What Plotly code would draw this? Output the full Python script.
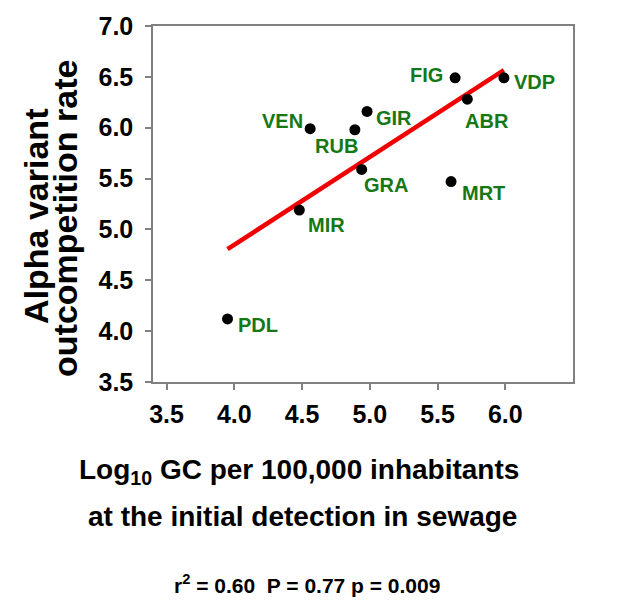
import numpy as np
import plotly.graph_objects as go

# ---- data ----
sites = ["PDL", "MIR", "VEN", "RUB", "GIR", "GRA", "FIG", "VDP", "ABR", "MRT"]
log_gc = [3.95, 4.48, 4.56, 4.89, 4.98, 4.94, 5.63, 5.99, 5.72, 5.60]
alpha_rate = [4.12, 5.19, 5.99, 5.98, 6.16, 5.59, 6.49, 6.49, 6.28, 5.47]
x_ticks = [3.5, 4.0, 4.5, 5.0, 5.5, 6.0]
y_ticks = [3.5, 4.0, 4.5, 5.0, 5.5, 6.0, 6.5, 7.0]
y_title_lines = ["Alpha variant", "outcompetition rate"]
x_title_lines = ["Log<sub>10</sub> GC per 100,000 inhabitants",
                 "at the initial detection in sewage"]
stats_text = "r<sup>2</sup> = 0.60  P = 0.77 p = 0.009"

# label offsets (pixels) from each point to its label centre
label_offsets = {
    "PDL": (30, 6), "MIR": (27, 15), "VEN": (-28, -8), "RUB": (-18, 16),
    "GIR": (27, 7), "GRA": (24, 16), "FIG": (-29, -3), "VDP": (31, 4),
    "ABR": (20, 22), "MRT": (32, 11),
}

GREEN = "#157815"
FONT = "Liberation Sans, Arial, sans-serif"

# least-squares fit
slope, intercept = np.polyfit(log_gc, alpha_rate, 1)
fit_x = [min(log_gc), max(log_gc)]
fit_y = [slope * v + intercept for v in fit_x]

fig = go.Figure()
fig.add_trace(go.Scatter(x=fit_x, y=fit_y, mode="lines",
                         line=dict(color="#f00000", width=4.5),
                         hoverinfo="skip", showlegend=False))
fig.add_trace(go.Scatter(x=log_gc, y=alpha_rate, mode="markers",
                         marker=dict(color="black", size=11),
                         text=sites, showlegend=False))

for s, xv, yv in zip(sites, log_gc, alpha_rate):
    dx, dy = label_offsets[s]
    fig.add_annotation(x=xv, y=yv, xref="x", yref="y", text=s, showarrow=False,
                       xshift=dx, yshift=-dy, xanchor="center", yanchor="middle",
                       font=dict(family=FONT, size=20, color=GREEN, weight="bold"))

L, R, T, B = 153, 47, 24, 220
W, H = 620, 602
pw, ph = W - L - R, H - T - B

def px_x(p):
    return (p - L) / pw

def px_y(p):
    return (H - B - p) / ph

# y title lines
for txt, cx, cy in zip(y_title_lines, [36, 65], [216, 218]):
    fig.add_annotation(xref="paper", yref="paper", x=px_x(cx), y=px_y(cy),
                       text=txt, textangle=-90, showarrow=False,
                       xanchor="center", yanchor="middle",
                       font=dict(family=FONT, size=34, color="black", weight="bold"))
# x title lines
for txt, cx, cy in zip(x_title_lines, [299, 302], [472, 517]):
    fig.add_annotation(xref="paper", yref="paper", x=px_x(cx), y=px_y(cy),
                       text=txt, showarrow=False, xanchor="center", yanchor="middle",
                       font=dict(family=FONT, size=28, color="black", weight="bold"))
# stats
fig.add_annotation(xref="paper", yref="paper", x=px_x(307), y=px_y(585),
                   text=stats_text, showarrow=False, xanchor="center", yanchor="middle",
                   font=dict(family=FONT, size=21, color="black", weight="bold"))

axis_common = dict(showline=True, mirror=True, linecolor="#808080", linewidth=1.5,
                   ticks="outside", ticklen=6, tickwidth=1.5, tickcolor="#808080",
                   showgrid=False, zeroline=False, tickformat=".1f",
                   tickfont=dict(family=FONT, size=25, color="black", weight="bold"))

fig.update_xaxes(range=[3.4, 6.5], tickvals=x_ticks, ticklabelstandoff=3, **axis_common)
fig.update_yaxes(range=[3.5, 7.0], tickvals=y_ticks, ticklabelstandoff=7, **axis_common)

fig.update_layout(width=W, height=H, margin=dict(l=L, r=R, t=T, b=B),
                  plot_bgcolor="white", paper_bgcolor="white")

fig.write_html("out.html")
